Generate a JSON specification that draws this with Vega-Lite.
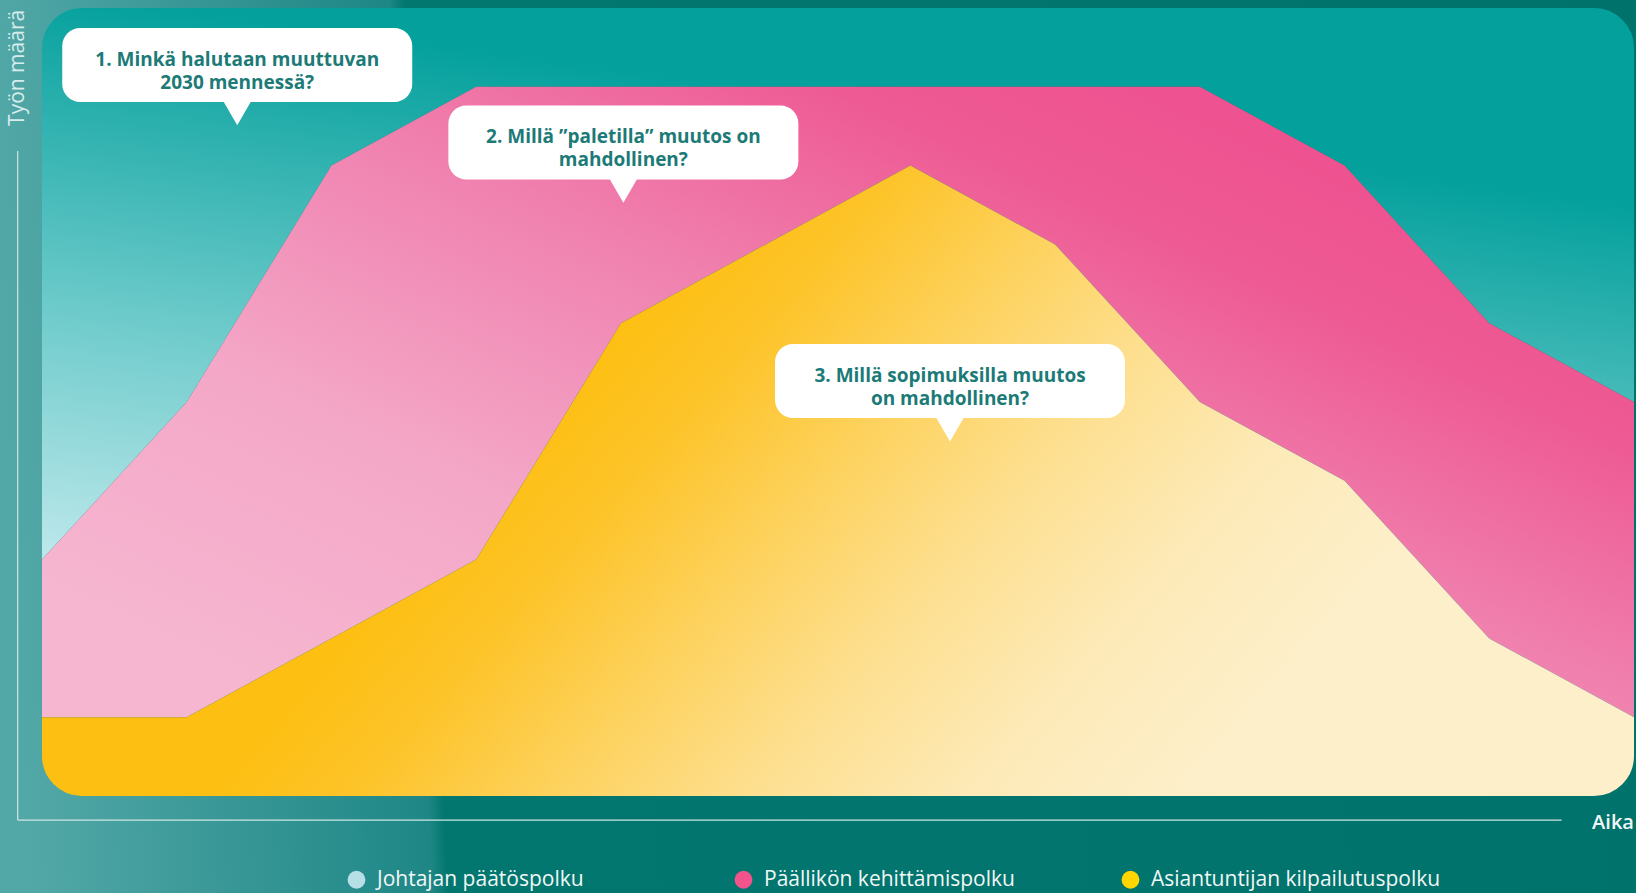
{
  "$schema": "https://vega.github.io/schema/vega-lite/v6.json",
  "width": 1592,
  "height": 788,
  "autosize": "none",
  "padding": {"left": 42, "top": 8, "right": 2, "bottom": 97},
  "background": "#00736e",
  "datasets": {
    "series": [
      {"x": 0, "series": "Asiantuntijan kilpailutuspolku", "rank": 1, "value": 1},
      {"x": 1, "series": "Asiantuntijan kilpailutuspolku", "rank": 1, "value": 1},
      {"x": 2, "series": "Asiantuntijan kilpailutuspolku", "rank": 1, "value": 2},
      {"x": 3, "series": "Asiantuntijan kilpailutuspolku", "rank": 1, "value": 3},
      {"x": 4, "series": "Asiantuntijan kilpailutuspolku", "rank": 1, "value": 6},
      {"x": 5, "series": "Asiantuntijan kilpailutuspolku", "rank": 1, "value": 7},
      {"x": 6, "series": "Asiantuntijan kilpailutuspolku", "rank": 1, "value": 8},
      {"x": 7, "series": "Asiantuntijan kilpailutuspolku", "rank": 1, "value": 7},
      {"x": 8, "series": "Asiantuntijan kilpailutuspolku", "rank": 1, "value": 5},
      {"x": 9, "series": "Asiantuntijan kilpailutuspolku", "rank": 1, "value": 4},
      {"x": 10, "series": "Asiantuntijan kilpailutuspolku", "rank": 1, "value": 2},
      {"x": 11, "series": "Asiantuntijan kilpailutuspolku", "rank": 1, "value": 1},
      {"x": 0, "series": "Päällikön kehittämispolku", "rank": 2, "value": 2},
      {"x": 1, "series": "Päällikön kehittämispolku", "rank": 2, "value": 4},
      {"x": 2, "series": "Päällikön kehittämispolku", "rank": 2, "value": 6},
      {"x": 3, "series": "Päällikön kehittämispolku", "rank": 2, "value": 6},
      {"x": 4, "series": "Päällikön kehittämispolku", "rank": 2, "value": 3},
      {"x": 5, "series": "Päällikön kehittämispolku", "rank": 2, "value": 2},
      {"x": 6, "series": "Päällikön kehittämispolku", "rank": 2, "value": 1},
      {"x": 7, "series": "Päällikön kehittämispolku", "rank": 2, "value": 2},
      {"x": 8, "series": "Päällikön kehittämispolku", "rank": 2, "value": 4},
      {"x": 9, "series": "Päällikön kehittämispolku", "rank": 2, "value": 4},
      {"x": 10, "series": "Päällikön kehittämispolku", "rank": 2, "value": 4},
      {"x": 11, "series": "Päällikön kehittämispolku", "rank": 2, "value": 4},
      {"x": 0, "series": "Johtajan päätöspolku", "rank": 3, "value": 7},
      {"x": 1, "series": "Johtajan päätöspolku", "rank": 3, "value": 5},
      {"x": 2, "series": "Johtajan päätöspolku", "rank": 3, "value": 2},
      {"x": 3, "series": "Johtajan päätöspolku", "rank": 3, "value": 1},
      {"x": 4, "series": "Johtajan päätöspolku", "rank": 3, "value": 1},
      {"x": 5, "series": "Johtajan päätöspolku", "rank": 3, "value": 1},
      {"x": 6, "series": "Johtajan päätöspolku", "rank": 3, "value": 1},
      {"x": 7, "series": "Johtajan päätöspolku", "rank": 3, "value": 1},
      {"x": 8, "series": "Johtajan päätöspolku", "rank": 3, "value": 1},
      {"x": 9, "series": "Johtajan päätöspolku", "rank": 3, "value": 2},
      {"x": 10, "series": "Johtajan päätöspolku", "rank": 3, "value": 4},
      {"x": 11, "series": "Johtajan päätöspolku", "rank": 3, "value": 5}
    ],
    "notes": [
      {"label": "1. Minkä halutaan muuttuvan\n2030 mennessä?", "bx": 1.349, "by": 9.277},
      {"label": "2. Millä ”paletilla” muutos on\nmahdollinen?", "bx": 4.017, "by": 8.294},
      {"label": "3. Millä sopimuksilla muutos\non mahdollinen?", "bx": 6.274, "by": 5.266}
    ]
  },
  "layer": [
    {
      "data": {"name": "series"},
      "transform": [
        {"stack": "value", "groupby": ["x"], "sort": [{"field": "rank", "order": "ascending"}], "as": ["y0", "y1"]},
        {"filter": "datum.rank === 3"}
      ],
      "mark": {
        "type": "area",
        "color": {
          "gradient": "linear", "x1": 0, "y1": 1, "x2": 0.35, "y2": 0.1,
          "stops": [
            {"offset": 0, "color": "#bde8eb"},
            {"offset": 0.45, "color": "#6ccaca"},
            {"offset": 1, "color": "#03a09c"}
          ]
        }
      },
      "encoding": {
        "x": {"field": "x", "type": "quantitative", "scale": {"domain": [0, 11], "nice": false, "zero": false}, "axis": null},
        "y": {"field": "y1", "type": "quantitative", "scale": {"domain": [0, 10], "nice": false}, "axis": null},
        "y2": {"field": "y0"}
      }
    },
    {
      "data": {"name": "series"},
      "transform": [
        {"stack": "value", "groupby": ["x"], "sort": [{"field": "rank", "order": "ascending"}], "as": ["y0", "y1"]},
        {"filter": "datum.rank === 2"}
      ],
      "mark": {
        "type": "area",
        "color": {
          "gradient": "linear", "x1": 0, "y1": 0.8, "x2": 0.8, "y2": 0.1,
          "stops": [
            {"offset": 0, "color": "#f6b6d0"},
            {"offset": 0.3, "color": "#f4a7c7"},
            {"offset": 0.6, "color": "#f081af"},
            {"offset": 0.85, "color": "#ee5a93"},
            {"offset": 1, "color": "#ee5290"}
          ]
        }
      },
      "encoding": {
        "x": {"field": "x", "type": "quantitative"},
        "y": {"field": "y1", "type": "quantitative"},
        "y2": {"field": "y0"}
      }
    },
    {
      "data": {"name": "series"},
      "transform": [
        {"stack": "value", "groupby": ["x"], "sort": [{"field": "rank", "order": "ascending"}], "as": ["y0", "y1"]},
        {"filter": "datum.rank === 1"}
      ],
      "mark": {
        "type": "area",
        "color": {
          "gradient": "linear", "x1": 0.45, "y1": 0, "x2": 1, "y2": 0.19,
          "stops": [
            {"offset": 0, "color": "#fdbf12"},
            {"offset": 0.15, "color": "#fdc42a"},
            {"offset": 0.35, "color": "#fdd25e"},
            {"offset": 0.55, "color": "#fddf8f"},
            {"offset": 0.78, "color": "#fdeab8"},
            {"offset": 1, "color": "#fdefca"}
          ]
        }
      },
      "encoding": {
        "x": {"field": "x", "type": "quantitative"},
        "y": {"field": "y1", "type": "quantitative"},
        "y2": {"field": "y0"}
      }
    },
    {
      "data": {"values": [{}]},
      "mark": {
        "type": "rect",
        "fill": "transparent",
        "strokeWidth": 120,
        "cornerRadius": 100,
        "stroke": {
          "gradient": "linear", "x1": 0, "y1": 0, "x2": 1, "y2": -0.026,
          "stops": [
            {"offset": 0, "color": "#52a8a7"},
            {"offset": 0.02, "color": "#4ea5a4"},
            {"offset": 0.236, "color": "#1e8786"},
            {"offset": 0.245, "color": "#02776f"},
            {"offset": 1, "color": "#00726c"}
          ]
        }
      },
      "encoding": {
        "x": {"datum": -0.41457},
        "x2": {"datum": 11.41457},
        "y": {"datum": -0.76142},
        "y2": {"datum": 10.76142}
      }
    },
    {
      "data": {"values": [{}]},
      "mark": {"type": "rule", "color": "#cfe6e5", "strokeWidth": 1.2},
      "encoding": {
        "x": {"datum": -0.168},
        "y": {"datum": -0.305},
        "y2": {"datum": 8.185}
      }
    },
    {
      "data": {"values": [{}]},
      "mark": {"type": "rule", "color": "#cfe6e5", "strokeWidth": 1.2},
      "encoding": {
        "y": {"datum": -0.305},
        "x": {"datum": -0.168},
        "x2": {"datum": 10.5}
      }
    },
    {
      "data": {"values": [{}]},
      "mark": {"type": "text", "text": "Työn määrä", "angle": 270, "align": "center", "baseline": "middle", "font": "Open Sans", "fontSize": 21, "color": "#d8ecec"},
      "encoding": {
        "x": {"datum": -0.166},
        "y": {"datum": 9.24}
      }
    },
    {
      "data": {"values": [{}]},
      "mark": {"type": "text", "text": "Aika", "align": "center", "baseline": "middle", "font": "Open Sans", "fontSize": 20, "fontWeight": 600, "color": "#f1f7f7"},
      "encoding": {
        "x": {"datum": 10.855},
        "y": {"datum": -0.343}
      }
    },
    {
      "data": {"name": "notes"},
      "mark": {"type": "rect", "width": 350, "height": 74, "cornerRadius": 18, "color": "#ffffff"},
      "encoding": {
        "x": {"field": "bx", "type": "quantitative"},
        "y": {"field": "by", "type": "quantitative"}
      }
    },
    {
      "data": {"name": "notes"},
      "mark": {"type": "point", "shape": "triangle-down", "size": 820, "filled": true, "color": "#ffffff", "opacity": 1, "strokeWidth": 0, "yOffset": 48},
      "encoding": {
        "x": {"field": "bx", "type": "quantitative"},
        "y": {"field": "by", "type": "quantitative"}
      }
    },
    {
      "data": {"name": "notes"},
      "mark": {"type": "text", "font": "Open Sans", "fontSize": 19, "fontWeight": "bold", "color": "#1c7a77", "lineBreak": "\n", "lineHeight": 23, "align": "center", "baseline": "middle", "dy": -5},
      "encoding": {
        "x": {"field": "bx", "type": "quantitative"},
        "y": {"field": "by", "type": "quantitative"},
        "text": {"field": "label"}
      }
    },
    {
      "data": {"name": "series"},
      "mark": {"type": "point", "filled": true, "opacity": 0},
      "encoding": {
        "x": {"field": "x", "type": "quantitative"},
        "y": {"field": "value", "type": "quantitative"},
        "color": {
          "field": "series", "type": "nominal",
          "scale": {
            "domain": ["Johtajan päätöspolku", "Päällikön kehittämispolku", "Asiantuntijan kilpailutuspolku"],
            "range": ["#b6dfe6", "#f2538b", "#ffd600"]
          },
          "legend": {
            "title": null, "orient": "none", "legendX": 304, "legendY": 861, "direction": "horizontal",
            "symbolType": "circle", "symbolSize": 320, "symbolOpacity": 1, "symbolStrokeWidth": 0,
            "labelFont": "Open Sans", "labelFontSize": 21, "labelFontWeight": 500, "labelColor": "#f2f7f7", "labelOffset": 10,
            "columnPadding": 66, "gridAlign": "all", "zindex": 1, "padding": 0, "labelLimit": 400
          }
        }
      }
    }
  ],
  "config": {
    "font": "Open Sans",
    "view": {"stroke": null}
  }
}
